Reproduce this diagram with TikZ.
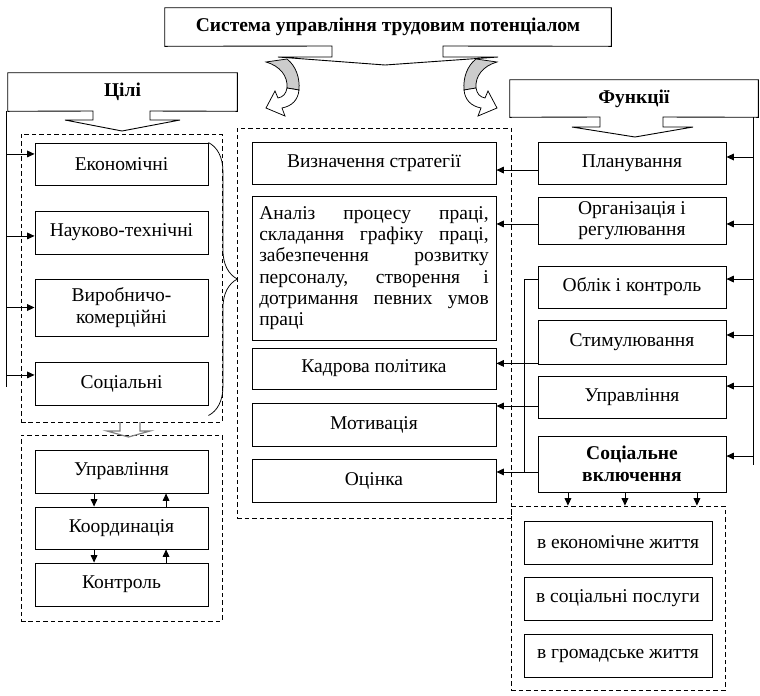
\documentclass[tikz,border=0pt]{standalone}
\usepackage{fontspec}
\setmainfont{Liberation Serif}
\usetikzlibrary{arrows.meta,fit,decorations.pathreplacing}

\newdimen\pxu \pxu=0.6667pt

\tikzset{
  blk/.style={draw, line width=0.6pt, fill=white, align=center, inner sep=2pt,
    font=\fontsize{13}{14.2}\selectfont},
  hdr/.style={align=center, inner sep=0pt, font=\fontsize{13}{14.2}\selectfont\bfseries},
  goalbox/.style={blk, minimum width=173\pxu, minimum height=42\pxu},
  midbox/.style={blk, minimum width=244\pxu, minimum height=42\pxu},
  funbox/.style={blk, minimum width=188\pxu, minimum height=42\pxu},
  grp/.style={draw, dash pattern=on 3pt off 2pt, line width=0.5pt, inner sep=0pt},
  arr/.style={-{Triangle[length=5pt,width=4.5pt]}, line width=0.6pt},
  tab/.style={line width=0.6pt}
}

% twisted arrow under the title
\newcommand{\twist}{%
  \filldraw[fill=gray!40, line width=0.5pt] (266,62) -- (287,59)
    .. controls (296,66) and (300,78) .. (299,90) -- (287,88)
    .. controls (288,76) and (280,66) .. (266,62) -- cycle;
  \filldraw[fill=white, line width=0.5pt] (287,88) -- (299,90)
    .. controls (298,100) and (292,106) .. (282,108) -- (285,116) -- (266,108)
    -- (275,91) -- (278,98) .. controls (283,97) and (286,94) .. (287,88) -- cycle;
}

\begin{document}
\begin{tikzpicture}[x=0.6667pt, y=-0.6667pt]
  \useasboundingbox (0,0) rectangle (760,695);

  % headers
  \node[hdr, minimum width=446\pxu, minimum height=38\pxu] (title) at (388,27)
    {Система управління трудовим потенціалом};
  \draw[tab] (title.south west) -- (title.north west) -- (title.north east) -- (title.south east)
    -- (443,46) -- (443,57) -- (498,57) -- (385,65) -- (278,57) -- (332,57) -- (332,46) -- cycle;

  \node[hdr, minimum width=229\pxu, minimum height=38\pxu] (tsili) at (122.5,92) {Цілі};
  \draw[tab] (tsili.south west) -- (tsili.north west) -- (tsili.north east) -- (tsili.south east)
    -- (150,111) -- (150,120) -- (180,120) -- (122,131) -- (65,120) -- (93,120) -- (93,111) -- cycle;

  \node[hdr, minimum width=248\pxu, minimum height=37\pxu] (tfun) at (634,98.5) {Функції};
  \draw[tab] (tfun.south west) -- (tfun.north west) -- (tfun.north east) -- (tfun.south east)
    -- (663,117) -- (663,127) -- (693,127) -- (635,137) -- (572,127) -- (600,127) -- (600,117) -- cycle;

  \twist
  \begin{scope}[shift={(763,0)}, xscale=-1]
    \twist
  \end{scope}

  % dashed groups
  \node[grp, fit={(21,134) (222,422)}] (gG) {};
  \node[grp, fit={(21,435) (222,621)}] (gM) {};
  \node[grp, fit={(237,128) (511,518)}] (gF) {};
  \node[grp, fit={(511,506) (725,690)}] (gR) {};

  % goals
  \node[goalbox] (eko) at (121.5,164) {Економічні};
  \node[goalbox, minimum height=43\pxu] (nt) at (121.5,232.5) {Науково-технічні};
  \node[goalbox, minimum height=57\pxu] (vk) at (121.5,307.5) {Виробничо-\\комерційні};
  \node[goalbox, minimum height=43\pxu] (soc) at (121.5,383.5) {Соціальні};

  \node[goalbox, minimum height=43\pxu] (lupr) at (121.5,471.5) {Управління};
  \node[goalbox] (lkoo) at (121.5,528) {Координація};
  \node[goalbox, minimum height=43\pxu] (lkon) at (121.5,584.5) {Контроль};

  % middle
  \node[midbox] (strat) at (374,163) {Визначення стратегії};
  \node[midbox, minimum height=144\pxu, text width=153pt, align=justify, inner xsep=4.8pt] (anal) at (374,268)
    {Аналіз процесу праці,\linebreak складання графіку праці,\linebreak забезпечення розвитку\linebreak
     персоналу, створення і\linebreak дотримання певних умов\linebreak праці};
  \node[midbox, minimum height=41\pxu] (kadr) at (374,368.5) {Кадрова політика};
  \node[midbox, minimum height=43\pxu] (motiv) at (374,424.5) {Мотивація};
  \node[midbox, minimum height=43\pxu] (ocin) at (374,480.5) {Оцінка};

  % functions
  \node[funbox] (plan) at (632,163) {Планування};
  \node[funbox, minimum height=47\pxu] (org) at (632,220.5) {Організація і\\регулювання};
  \node[funbox] (obl) at (632,287) {Облік і контроль};
  \node[funbox, minimum height=44\pxu] (stim) at (632,342) {Стимулювання};
  \node[funbox] (fupr) at (632,397) {Управління};
  \node[funbox, minimum height=56\pxu, font=\fontsize{13}{15}\selectfont\bfseries] (svk) at (632,464)
    {Соціальне\\включення};

  \node[funbox, minimum height=43\pxu] (i1) at (618,542.5) {в економічне життя};
  \node[funbox, minimum height=43\pxu] (i2) at (618,598.5) {в соціальні послуги};
  \node[funbox, minimum height=43\pxu] (i3) at (618,655.5) {в громадське життя};

  % brace and small arrow on the left
  \draw[decorate, decoration={brace, amplitude=19.3pt}, line width=0.5pt]
    (eko.north east) -- ([yshift=-6.7pt]soc.south east);
  \draw[gray, line width=0.8pt] (120,422) -- (120,431) -- (107,431) -- (128.5,437)
    -- (150,431) -- (140,431) -- (140,422);

  % left bus
  \coordinate (lt) at (6,111);
  \coordinate (lb) at (6,387);
  \draw[line width=0.6pt] (lt) -- (lb);
  \foreach \n/\s in {eko/6.7pt, nt/-2.3pt, vk/0pt, soc/5.7pt} {
    \path ([yshift=\s]\n.west) coordinate (t);
    \draw[arr] (lt |- t) -- (t);
  }

  % right bus
  \coordinate (rt) at (753,117);
  \coordinate (rb) at (753,465);
  \draw[line width=0.6pt] (rt) -- (rb);
  \foreach \n/\s in {plan/4pt, org/-2.3pt, obl/5.3pt, stim/4.7pt, fupr/7.3pt, svk/5.3pt} {
    \path ([yshift=\s]\n.east) coordinate (t);
    \draw[arr] (rt |- t) -- (t);
  }

  % functions to the middle column
  \draw[arr] ([yshift=-4.7pt]plan.west) -- ([yshift=-4.7pt]strat.east);
  \path ([yshift=-2.3pt]org.west) coordinate (t);
  \draw[arr] (t) -- (anal.east |- t);
  \path ([yshift=0.7pt]stim.south west) coordinate (t);
  \draw[arr] (t) -- (kadr.east |- t);
  \path ([yshift=-6pt]fupr.west) coordinate (t);
  \draw[arr] (t) -- (motiv.east |- t);
  \path ([yshift=5.7pt]ocin.east) coordinate (oc);
  \draw[arr] ([yshift=5.3pt]obl.west) -- ++(-9pt,0) |- (oc);
  \draw[line width=0.6pt] (svk.west |- oc) -- ++(-9pt,0);

  % management loop
  \foreach \a/\b in {lupr/lkoo, lkoo/lkon} {
    \draw[arr] ([xshift=-18.3pt]\a.south) -- ([xshift=-18.3pt]\b.north);
    \draw[arr] ([xshift=29.7pt]\b.north) -- ([xshift=29.7pt]\a.south);
  }

  % inclusion
  \foreach \s in {-42.7pt, -4.7pt, 43.3pt} {
    \path ([xshift=\s]svk.south) coordinate (t);
    \draw[arr] (t) -- (t |- gR.north);
  }
\end{tikzpicture}
\end{document}
